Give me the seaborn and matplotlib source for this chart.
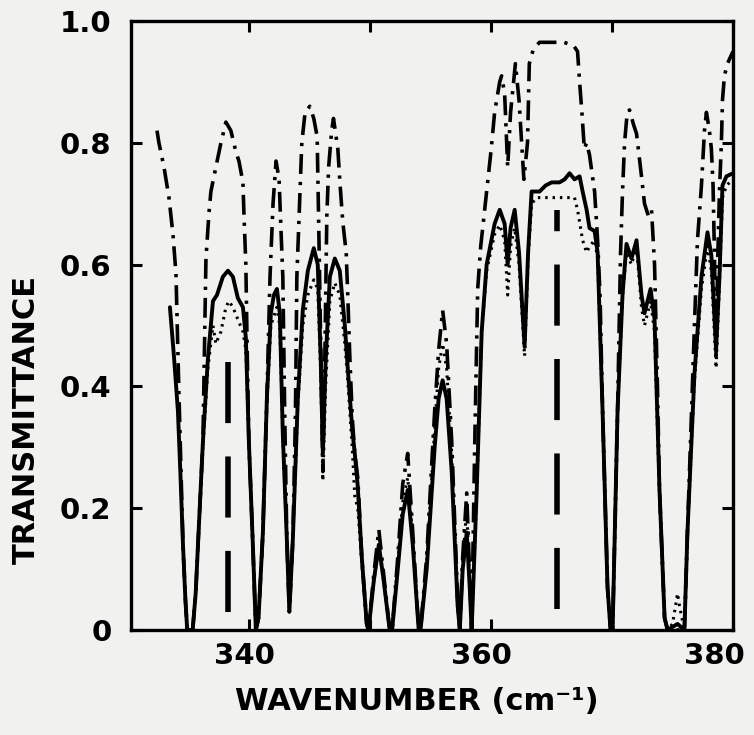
import numpy as np
import matplotlib
matplotlib.use("Agg")
import matplotlib.pyplot as plt
import matplotlib.transforms as mtransforms
import seaborn as sns

# ---------------- data ----------------
solid_wn = [333.42, 333.75, 334.08, 334.30, 334.50, 334.70, 334.85, 335.30, 335.55, 335.74,
            336.15, 336.56, 336.98, 337.31, 337.80, 338.22, 338.63, 339.04, 339.46, 339.70,
            339.95, 340.28, 340.53, 340.75, 341.11, 341.44, 341.77, 342.02, 342.27, 342.51,
            342.76, 343.09, 343.30, 343.59, 344.00, 344.41, 344.83, 345.32, 345.65, 345.90,
            346.07, 346.30, 346.65, 347.06, 347.47, 347.89, 348.13, 348.50, 348.71, 348.96,
            349.29, 349.70, 349.85, 350.28, 350.70, 351.11, 351.60, 351.80, 352.27, 352.68,
            353.09, 353.51, 354.00, 354.15, 354.66, 354.99, 355.32, 355.65, 355.98, 356.31,
            356.73, 357.22, 357.40, 357.64, 357.97, 358.22, 358.38, 358.80, 359.21, 359.62,
            360.28, 360.70, 361.11, 361.36, 361.60, 361.94, 362.30, 362.76, 363.05, 363.34,
            364.00, 364.50, 365.00, 365.65, 366.07, 366.48, 366.89, 367.31, 367.56, 367.89,
            368.13, 368.55, 368.80, 369.21, 369.62, 369.87, 370.04, 370.45, 370.86, 371.19,
            371.60, 372.02, 372.43, 372.68, 373.18, 373.51, 373.92, 374.34, 374.59, 375.41,
            375.98, 376.23, 376.81, 377.39, 377.89, 378.21, 378.60, 378.88, 379.13, 379.46,
            380.00]
solid_t = [0.53, 0.45, 0.36, 0.25, 0.14, 0.05, 0.00, 0.00, 0.06, 0.14,
           0.31, 0.445, 0.54, 0.55, 0.58, 0.59, 0.58, 0.545, 0.53, 0.48,
           0.31, 0.14, 0.00, 0.02, 0.16, 0.38, 0.52, 0.55, 0.56, 0.52,
           0.32, 0.15, 0.03, 0.15, 0.38, 0.525, 0.59, 0.627, 0.60, 0.44,
           0.29, 0.44, 0.58, 0.61, 0.59, 0.50, 0.43, 0.33, 0.29, 0.235,
           0.12, 0.01, 0.00, 0.08, 0.14, 0.08, 0.00, 0.00, 0.10, 0.19,
           0.23, 0.14, 0.00, 0.00, 0.10, 0.20, 0.30, 0.38, 0.41, 0.38,
           0.26, 0.04, 0.00, 0.10, 0.16, 0.07, 0.00, 0.23, 0.49, 0.60,
           0.667, 0.69, 0.667, 0.60, 0.66, 0.69, 0.62, 0.465, 0.62, 0.72,
           0.72, 0.73, 0.735, 0.735, 0.74, 0.75, 0.74, 0.745, 0.72, 0.69,
           0.66, 0.655, 0.62, 0.36, 0.07, 0.00, 0.00, 0.36, 0.55, 0.634,
           0.61, 0.64, 0.55, 0.52, 0.56, 0.51, 0.23, 0.02, 0.00, 0.01,
           0.00, 0.16, 0.42, 0.58, 0.653, 0.615, 0.46, 0.58, 0.73, 0.745,
           0.75]

dot_wn = [335.74, 336.15, 336.56, 336.98, 337.22, 337.64, 338.05, 338.30, 338.63, 339.04,
          339.46, 339.70, 339.95, 340.28, 340.53, 340.75, 341.11, 341.44, 341.77, 342.27,
          342.51, 342.76, 343.09, 343.30, 343.59, 344.00, 344.41, 344.83, 345.32, 345.65,
          345.90, 346.07, 346.30, 346.65, 347.06, 347.47, 347.89, 348.13, 348.50, 348.71,
          348.96, 349.29, 349.70, 349.85, 350.28, 350.70, 351.11, 351.60, 351.80, 352.27,
          352.68, 353.09, 353.51, 354.00, 354.15, 354.66, 354.99, 355.32, 355.65, 355.98,
          356.31, 356.73, 357.22, 357.40, 357.64, 357.97, 358.22, 358.38, 358.80, 359.21,
          359.62, 360.28, 360.70, 361.11, 361.36, 361.60, 361.94, 362.30, 362.76, 363.05,
          363.34, 363.75, 364.50, 365.50, 366.50, 366.89, 367.14, 367.31, 367.56, 367.89,
          368.13, 368.55, 368.80, 369.21, 369.62, 369.87, 370.04, 370.45, 370.86, 371.19,
          371.60, 372.02, 372.43, 372.68, 373.18, 373.51, 373.92, 374.34, 374.59, 375.00,
          375.25, 375.41, 375.57, 375.98, 376.23, 376.81, 377.39, 377.89, 378.21, 378.60,
          378.88, 379.13, 379.46, 380.00]
dot_t = [0.14, 0.30, 0.43, 0.50, 0.47, 0.49, 0.53, 0.54, 0.53, 0.51,
         0.49, 0.46, 0.31, 0.14, 0.00, 0.02, 0.16, 0.37, 0.50, 0.53,
         0.50, 0.32, 0.15, 0.03, 0.15, 0.37, 0.50, 0.55, 0.575, 0.56,
         0.42, 0.245, 0.40, 0.54, 0.57, 0.55, 0.47, 0.41, 0.30, 0.22,
         0.20, 0.11, 0.01, 0.00, 0.08, 0.135, 0.08, 0.00, 0.00, 0.11,
         0.21, 0.25, 0.15, 0.00, 0.00, 0.11, 0.22, 0.33, 0.43, 0.47,
         0.43, 0.29, 0.04, 0.00, 0.11, 0.20, 0.08, 0.00, 0.23, 0.49,
         0.59, 0.65, 0.665, 0.64, 0.55, 0.63, 0.66, 0.60, 0.45, 0.61,
         0.70, 0.71, 0.71, 0.71, 0.71, 0.71, 0.69, 0.67, 0.64, 0.62,
         0.63, 0.64, 0.61, 0.36, 0.07, 0.00, 0.00, 0.36, 0.55, 0.62,
         0.60, 0.63, 0.53, 0.50, 0.54, 0.49, 0.22, 0.02, 0.00, 0.01,
         0.04, 0.06, 0.04, 0.00, 0.16, 0.41, 0.56, 0.63, 0.59, 0.43,
         0.57, 0.71, 0.73, 0.74]

dd_wn = [332.35, 332.51, 332.93, 333.34, 333.67, 333.92, 334.15, 334.50, 334.70, 334.85,
         335.30, 335.55, 335.74, 336.15, 336.40, 336.65, 336.81, 337.22, 337.64, 338.05,
         338.46, 338.88, 339.13, 339.46, 339.54, 339.70, 339.82, 339.95, 340.28, 340.53,
         340.75, 341.11, 341.44, 341.70, 341.95, 342.20, 342.45, 342.60, 342.76, 342.92,
         343.09, 343.30, 343.59, 343.80, 343.92, 344.33, 344.60, 344.99, 345.32, 345.60,
         345.75, 345.95, 346.07, 346.20, 346.40, 346.55, 346.80, 346.95, 347.31, 347.50,
         347.72, 348.00, 348.13, 348.30, 348.50, 348.71, 348.96, 349.29, 349.70, 349.85,
         350.28, 350.70, 351.11, 351.60, 351.80, 352.27, 352.68, 353.09, 353.51, 354.00,
         354.15, 354.66, 354.99, 355.32, 355.65, 355.98, 356.31, 356.73, 357.22, 357.40,
         357.64, 357.97, 358.22, 358.38, 358.63, 358.88, 359.13, 359.62, 360.00, 360.28,
         360.70, 360.86, 361.11, 361.36, 361.60, 362.00, 362.30, 362.70, 363.00, 363.15,
         363.50, 364.00, 365.00, 366.00, 366.80, 367.14, 367.31, 367.50, 367.70, 367.89,
         368.13, 368.55, 368.80, 369.00, 369.21, 369.62, 369.87, 370.04, 370.45, 370.70,
         370.86, 371.03, 371.25, 371.44, 371.77, 372.02, 372.43, 372.68, 373.00, 373.26,
         373.51, 373.75, 373.92, 374.34, 374.59, 375.98, 376.23, 376.81, 377.06, 377.39,
         377.64, 377.80, 378.05, 378.21, 378.35, 378.46, 378.60, 378.75, 378.88, 379.04,
         379.13, 379.29, 379.54, 380.00]
dd_t = [0.82, 0.80, 0.76, 0.71, 0.65, 0.585, 0.40, 0.14, 0.05, 0.00,
        0.00, 0.06, 0.14, 0.31, 0.61, 0.685, 0.72, 0.76, 0.80, 0.834,
        0.82, 0.785, 0.77, 0.735, 0.685, 0.60, 0.45, 0.31, 0.14, 0.00,
        0.02, 0.16, 0.38, 0.58, 0.70, 0.77, 0.74, 0.66, 0.58, 0.35,
        0.15, 0.03, 0.15, 0.35, 0.58, 0.80, 0.85, 0.86, 0.84, 0.81,
        0.64, 0.40, 0.26, 0.40, 0.68, 0.76, 0.82, 0.84, 0.79, 0.73,
        0.67, 0.62, 0.55, 0.45, 0.35, 0.29, 0.25, 0.12, 0.01, 0.00,
        0.09, 0.165, 0.09, 0.00, 0.00, 0.12, 0.24, 0.29, 0.16, 0.00,
        0.00, 0.12, 0.24, 0.36, 0.46, 0.525, 0.47, 0.31, 0.05, 0.00,
        0.12, 0.225, 0.09, 0.00, 0.30, 0.56, 0.63, 0.72, 0.79, 0.85,
        0.90, 0.91, 0.88, 0.76, 0.85, 0.93, 0.87, 0.74, 0.80, 0.93,
        0.955, 0.965, 0.965, 0.965, 0.96, 0.95, 0.90, 0.85, 0.79, 0.80,
        0.78, 0.72, 0.64, 0.55, 0.36, 0.07, 0.00, 0.00, 0.36, 0.62,
        0.72, 0.80, 0.85, 0.854, 0.83, 0.815, 0.745, 0.70, 0.68, 0.69,
        0.60, 0.40, 0.23, 0.02, 0.00, 0.00, 0.16, 0.50, 0.64, 0.73,
        0.82, 0.85, 0.82, 0.79, 0.73, 0.62, 0.45, 0.62, 0.72, 0.80,
        0.87, 0.91, 0.93, 0.95]

# vertical dashed marker lines (wavenumber, lower and upper transmittance)
marker_wn = [338.2, 365.4]
marker_lo = [0.03, 0.035]
marker_hi = [0.48, 0.69]

x_ticks = [340, 360, 380]
x_ticklabels = ["340", "360", "380"]
x_minor = [350, 370]
y_ticks = [0, 0.2, 0.4, 0.6, 0.8, 1.0]
y_ticklabels = ["0", "0.2", "0.4", "0.6", "0.8", "1.0"]

# ---------------- plot ----------------
sns.set_theme(style="white")
plt.rcParams["font.family"] = ["DejaVu Sans"]
bg = "#f1f1ef"
fig = plt.figure(figsize=(7.54, 7.35), dpi=100, facecolor=bg)
ax = fig.add_axes([131 / 754, 105 / 735, (733 - 131) / 754, (630 - 21) / 735])
ax.set_facecolor(bg)

sns.lineplot(x=dd_wn, y=dd_t, ax=ax, color="black", lw=2.6, sort=False, estimator=None)
ax.lines[-1].set_dashes((5.5, 2.2, 0.9, 2.2))
sns.lineplot(x=dot_wn, y=dot_t, ax=ax, color="black", lw=2.2, sort=False, estimator=None)
ax.lines[-1].set_dashes((0.8, 1.6))
sns.lineplot(x=solid_wn, y=solid_t, ax=ax, color="black", lw=2.8, sort=False, estimator=None)

for w, lo, hi in zip(marker_wn, marker_lo, marker_hi):
    sns.lineplot(x=[w, w], y=[lo, hi], ax=ax, color="black", lw=4.0, sort=False, estimator=None)
    ax.lines[-1].set_dashes((11, 6))

ax.set_xlim(330.2, 380.0)
ax.set_ylim(0, 1.0)
ax.set_xticks(x_ticks)
ax.set_xticklabels(x_ticklabels)
ax.set_xticks(x_minor, minor=True)
ax.set_yticks(y_ticks)
ax.set_yticklabels(y_ticklabels)

for s in ax.spines.values():
    s.set_visible(True)
    s.set_color("black")
    s.set_linewidth(2.4)

ax.tick_params(axis="both", which="both", direction="in", top=True, right=True,
               bottom=True, left=True, length=8, width=2.2, color="black")
ax.tick_params(axis="x", which="major", pad=9)
ax.tick_params(axis="y", which="major", pad=14)
for lab in ax.get_xticklabels() + ax.get_yticklabels():
    lab.set_fontsize(21)
    lab.set_fontweight("bold")
    lab.set_color("black")

# the printed x tick labels sit slightly left of their ticks
label_shift_px = [-5, -10, -19]
for lab, dx in zip(ax.get_xticklabels(), label_shift_px):
    lab.set_transform(lab.get_transform() +
                      mtransforms.ScaledTranslation(dx / 100, 0, fig.dpi_scale_trans))

ax.set_xlabel("WAVENUMBER (cm⁻¹)", fontsize=22, fontweight="bold", color="black")
ax.xaxis.set_label_coords(0.475, -0.093)
ax.set_ylabel("TRANSMITTANCE", fontsize=22, fontweight="bold", color="black")
ax.yaxis.set_label_coords(-0.150, 0.345)
ax.grid(False)

fig.savefig("out.png", dpi=100, facecolor=bg)
